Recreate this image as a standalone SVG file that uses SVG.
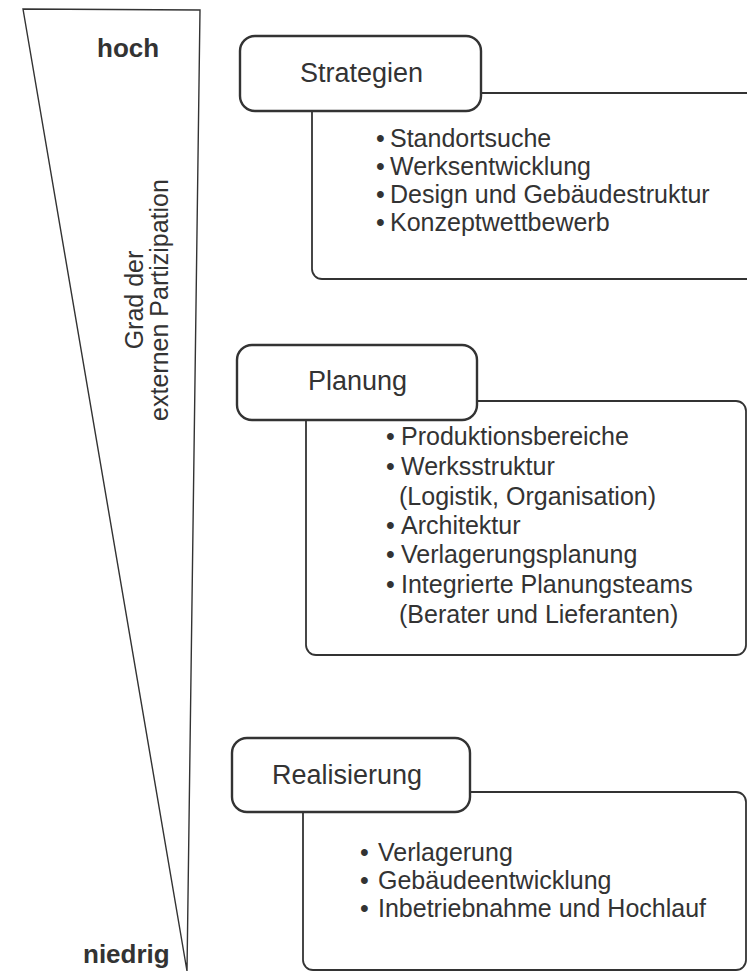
<svg xmlns="http://www.w3.org/2000/svg" width="747" height="973" viewBox="0 0 747 973">
  <style>
    text { font-family: "Liberation Sans", Arial, Helvetica, sans-serif; fill: #333; }
    .scale-line { fill: none; stroke: #333; stroke-width: 1.4; }
    .level { font-size: 26px; font-weight: bold; }
    .axis { font-size: 25px; }
    .head { fill: #fff; stroke: #333; stroke-width: 2.4; }
    .body { fill: #fff; stroke: #333; stroke-width: 1.8; }
    .title { font-size: 27px; }
    .item { font-size: 25px; }
  </style>
  <rect width="747" height="973" fill="#fff"/>

  <!-- participation wedge: wide at top, narrowing to a point -->
  <g id="scale">
    <polygon class="scale-line" points="23,9 200,10 187,971"/>
    <text class="level" x="97" y="57">hoch</text>
    <text class="level" x="83" y="963">niedrig</text>
    <g transform="translate(143,300) rotate(-90)">
      <text class="axis" x="0" y="0" text-anchor="middle">Grad der</text>
      <text class="axis" x="0" y="25" text-anchor="middle">externen Partizipation</text>
    </g>
  </g>

  <!-- phase 1 -->
  <g id="strategien">
    <rect class="body" x="312" y="93" width="450" height="186" rx="10"/>
    <rect class="head" x="240" y="36" width="241" height="75" rx="15"/>
    <text class="title" x="300" y="82">Strategien</text>
    <text class="item"><tspan x="376" y="147">•</tspan><tspan x="390" y="147">Standortsuche</tspan></text>
    <text class="item"><tspan x="376" y="175">•</tspan><tspan x="390" y="175">Werksentwicklung</tspan></text>
    <text class="item"><tspan x="376" y="203">•</tspan><tspan x="390" y="203">Design und Gebäudestruktur</tspan></text>
    <text class="item"><tspan x="376" y="231">•</tspan><tspan x="390" y="231">Konzeptwettbewerb</tspan></text>
  </g>

  <!-- phase 2 -->
  <g id="planung">
    <rect class="body" x="306" y="401" width="440" height="254" rx="10"/>
    <rect class="head" x="237" y="345" width="240" height="75" rx="15"/>
    <text class="title" x="308" y="390">Planung</text>
    <text class="item"><tspan x="386" y="445">•</tspan><tspan x="401" y="445">Produktionsbereiche</tspan></text>
    <text class="item"><tspan x="386" y="475">•</tspan><tspan x="401" y="475">Werksstruktur</tspan></text>
    <text class="item" x="399" y="505">(Logistik, Organisation)</text>
    <text class="item"><tspan x="386" y="534">•</tspan><tspan x="401" y="534">Architektur</tspan></text>
    <text class="item"><tspan x="386" y="563">•</tspan><tspan x="401" y="563">Verlagerungsplanung</tspan></text>
    <text class="item"><tspan x="386" y="593">•</tspan><tspan x="401" y="593">Integrierte Planungsteams</tspan></text>
    <text class="item" x="399" y="623">(Berater und Lieferanten)</text>
  </g>

  <!-- phase 3 -->
  <g id="realisierung">
    <rect class="body" x="303" y="792" width="443" height="178" rx="10"/>
    <rect class="head" x="232" y="738" width="238" height="74" rx="15"/>
    <text class="title" x="272" y="784">Realisierung</text>
    <text class="item"><tspan x="360" y="861">•</tspan><tspan x="378" y="861">Verlagerung</tspan></text>
    <text class="item"><tspan x="360" y="889">•</tspan><tspan x="378" y="889">Gebäudeentwicklung</tspan></text>
    <text class="item"><tspan x="360" y="917">•</tspan><tspan x="378" y="917">Inbetriebnahme und Hochlauf</tspan></text>
  </g>
</svg>
